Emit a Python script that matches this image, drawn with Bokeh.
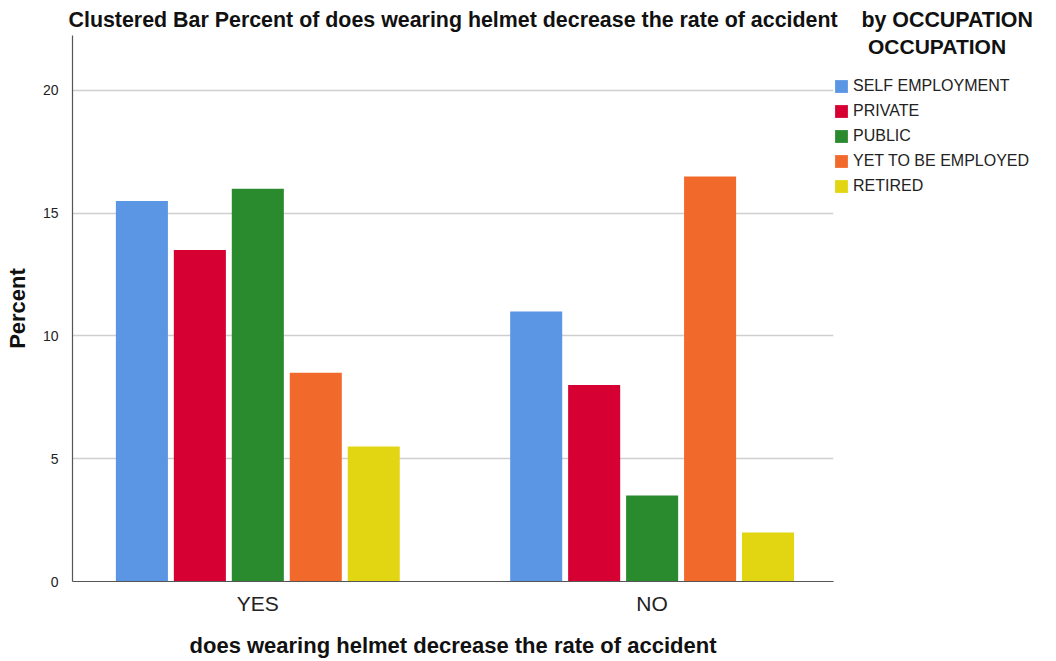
from bokeh.plotting import figure
from bokeh.models import Range1d, FixedTicker, Legend, LegendItem
from bokeh.embed import file_html
from bokeh.resources import INLINE

# Survey answers and occupation groups
responses = ["YES", "NO"]
occupations = ["SELF EMPLOYMENT", "PRIVATE", "PUBLIC", "YET TO BE EMPLOYED", "RETIRED"]
colors = ["#5A96E3", "#D60032", "#2A8A2E", "#F26A2B", "#E2D512"]

# Percent of all respondents, one list per occupation (YES, NO)
self_employment = [15.5, 11.0]
private = [13.5, 8.0]
public = [16.0, 3.5]
yet_to_be_employed = [8.5, 16.5]
retired = [5.5, 2.0]
series = [self_employment, private, public, yet_to_be_employed, retired]

y_ticks = [0, 5, 10, 15, 20]

FONT = "Liberation Sans"

p = figure(
    frame_width=761, frame_height=546,
    x_range=Range1d(-0.47, 1.46), y_range=Range1d(0, 22.24),
    output_backend="svg", toolbar_location=None,
    min_border_left=72, min_border_right=0, min_border_top=35, min_border_bottom=78,
    title="Clustered Bar Percent of does wearing helmet decrease the rate of accident\u00a0\u00a0\u00a0 by OCCUPATION",
)
p.outline_line_color = None
p.background_fill_color = "white"

p.title.text_font = FONT
p.title.text_font_size = "21.4px"
p.title.text_font_style = "bold"
p.title.text_color = "#111111"
p.title.offset = -4
p.title.standoff = 8

step = 0.147
bar_w = 0.132
items = []
for i, (name, vals, col) in enumerate(zip(occupations, series, colors)):
    xs = [j + (i - 2) * step for j in range(len(responses))]
    r = p.vbar(x=xs, top=vals, width=bar_w, bottom=0, fill_color=col, line_color=None)
    items.append(LegendItem(label=name, renderers=[r]))

# axes
p.xaxis.ticker = FixedTicker(ticks=list(range(len(responses))))
p.xaxis.major_label_overrides = {i: r for i, r in enumerate(responses)}
p.xaxis.axis_label = "does wearing helmet decrease the rate of accident"
p.yaxis.ticker = FixedTicker(ticks=y_ticks)
p.yaxis.axis_label = "Percent"

for ax in (p.xaxis[0], p.yaxis[0]):
    ax.axis_line_color = "#555555"
    ax.axis_line_width = 1.2
    ax.major_tick_line_color = None
    ax.minor_tick_line_color = None
    ax.major_label_text_font = FONT
    ax.major_label_text_color = "#222222"
    ax.axis_label_text_font = FONT
    ax.axis_label_text_font_style = "bold"
    ax.axis_label_text_color = "#111111"
    ax.axis_label_text_font_size = "22px"

p.xaxis.major_label_text_font_size = "21px"
p.xaxis.major_label_standoff = 4
p.xaxis.axis_label_standoff = 15
p.yaxis.major_label_text_font_size = "14px"
p.yaxis.major_label_standoff = 8
p.yaxis.axis_label_standoff = 10

p.xgrid.grid_line_color = None
p.ygrid.grid_line_color = "#CFCFCF"
p.ygrid.grid_line_width = 1.6

legend = Legend(
    items=items, location="top_left",
    title="\u00a0\u00a0\u00a0\u00a0\u00a0\u00a0OCCUPATION",
    title_text_font=FONT, title_text_font_size="21px", title_text_font_style="bold",
    title_text_color="#111111", title_standoff=18,
    label_text_font=FONT, label_text_font_size="16px", label_text_color="#222222",
    glyph_width=16, glyph_height=16, label_height=16, spacing=7, label_standoff=4,
    padding=8, margin=0, border_line_color=None, background_fill_alpha=0,
)
p.add_layout(legend, "right")

open("out.html", "w").write(file_html(p, INLINE))
